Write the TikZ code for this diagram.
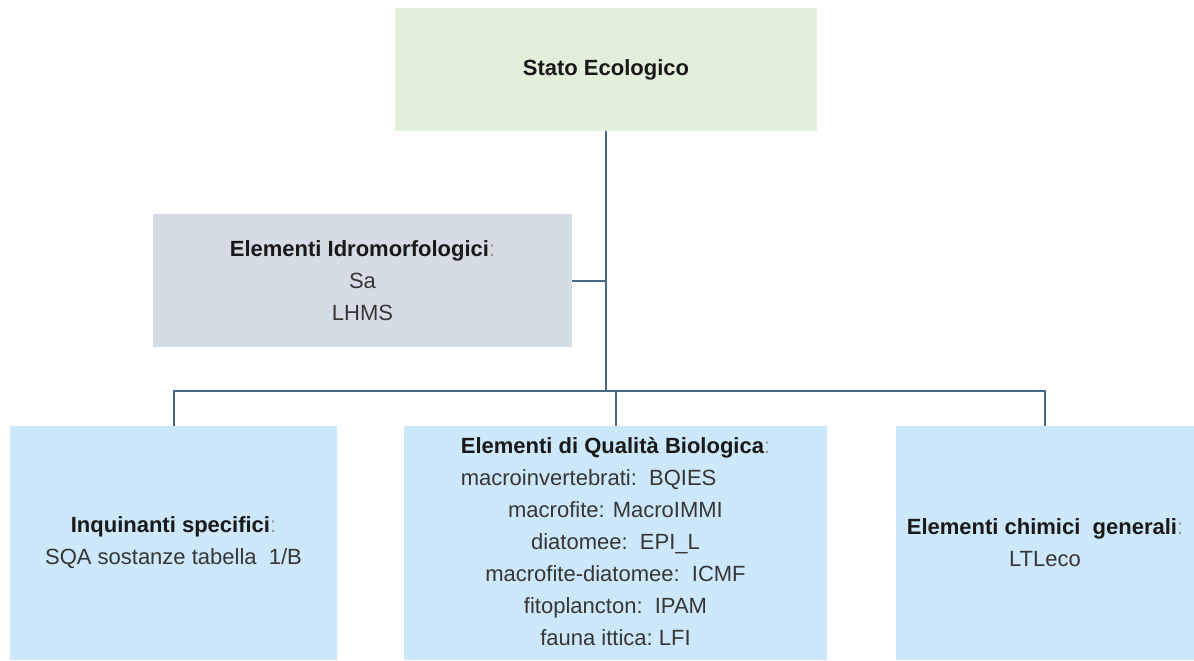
\documentclass[tikz,border=0pt]{standalone}
\usepackage{fontspec}
\setmainfont{Liberation Sans}
\definecolor{verde}{HTML}{E2EFDA}
\definecolor{grigio}{HTML}{D6DCE5}
\definecolor{azzurro}{HTML}{CCE8FA}
\definecolor{linea}{HTML}{4A6788}
\definecolor{testo}{HTML}{363636}
\newcommand{\dd}{\textcolor{gray!80}{:}}
\newcommand{\tit}[1]{\textbf{\textcolor{black!90}{#1}}}

\begin{document}
\begin{tikzpicture}[x=0.5pt,y=-0.5pt,
   box/.style={inner sep=0pt,align=center,text=testo,font=\fontsize{11}{16}\selectfont},
   conn/.style={draw=linea,line width=1pt}]
   \useasboundingbox (0,0) rectangle (1194,660);

   % riquadri
   \node[box,fill=verde,minimum width=211pt,minimum height=61.5pt] (eco) at (606,69.5) {\tit{Stato Ecologico}};
   \node[box,fill=grigio,minimum width=209.5pt,minimum height=66.5pt] (idro) at (362.5,280.5)
      {\tit{Elementi Idromorfologici}\dd\\Sa\\LHMS};
   \node[box,fill=azzurro,minimum width=163.5pt,minimum height=117pt] (inq) at (173.5,543)
      {\tit{Inquinanti specifici}\dd\\SQA sostanze tabella\ \ 1/B};
   \node[box,fill=azzurro,minimum width=211.5pt,minimum height=117pt] (bio) at (615.5,543)
      {\begin{tabular}{@{}c@{}}
        \tit{Elementi di Qualità Biologica}\dd\\
        \multicolumn{1}{@{}l@{}}{macroinvertebrati:\ \ BQIES}\\
        macrofite: MacroIMMI\\
        diatomee:\ \ EPI\_L\\
        macrofite-diatomee:\ \ ICMF\\
        fitoplancton:\ \ IPAM\\
        fauna ittica:\ LFI
       \end{tabular}};
   \node[box,fill=azzurro,minimum width=149pt,minimum height=117pt] (chim) at (1045,543)
      {\tit{Elementi chimici\ \ generali}\dd\\LTLeco};

   % collegamenti
   \coordinate (bus) at (606,391);
   \draw[conn] (eco.south) -- (bus);
   \draw[conn] (idro.east) -- (idro.east -| bus);
   \draw[conn] (inq.north) |- (bus) -| (chim.north);
   \draw[conn] (bio.north |- bus) -- (bio.north);

\end{tikzpicture}
\end{document}
